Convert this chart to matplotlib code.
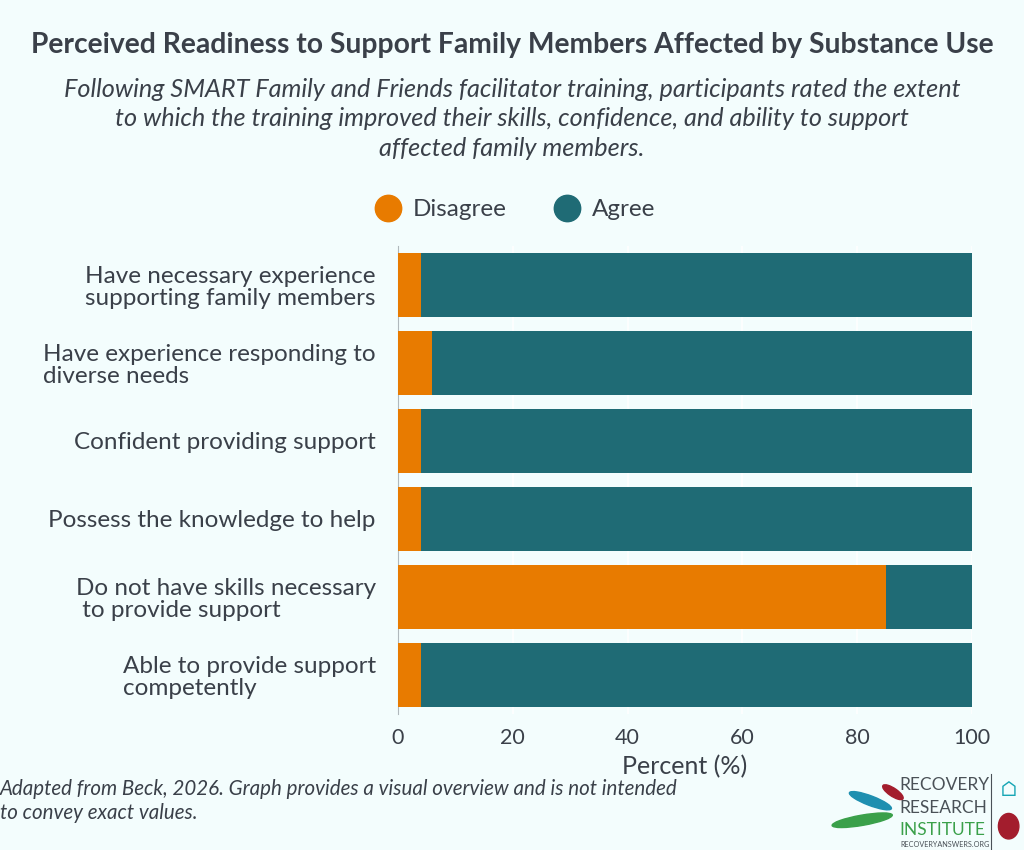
import matplotlib
matplotlib.use("Agg")
import matplotlib.pyplot as plt
from matplotlib.lines import Line2D
from matplotlib.patches import Ellipse

plt.rcParams['font.family'] = ['Lato', 'DejaVu Sans']

categories = ['Have necessary experience\nsupporting family members',
              'Have experience responding to\ndiverse needs',
              'Confident providing support',
              'Possess the knowledge to help',
              'Do not have skills necessary\n to provide support',
              'Able to provide support\ncompetently']
disagree = [4, 6, 4, 4, 85, 4]
agree = [96, 94, 96, 96, 15, 96]
xticks = [0, 20, 40, 60, 80, 100]

bg = '#f3fdfd'
orange = '#e87b00'
teal = '#1f6b75'
txt = '#3a4049'

fig = plt.figure(figsize=(10.24, 8.5), dpi=100, facecolor=bg)
ax = fig.add_axes([0.3887, 0.16, 0.5606, 0.5506], facecolor=bg)

y = list(range(len(categories)))
ax.barh(y, disagree, height=0.83, color=orange, zorder=3)
ax.barh(y, agree, left=disagree, height=0.83, color=teal, zorder=3)

ax.set_ylim(len(categories) - 0.5, -0.5)
ax.set_xlim(0, 100)
ax.set_yticks(y)
ax.set_yticklabels(categories, fontsize=17.5, color=txt, ha='right', multialignment='left',
                   linespacing=1.05)
ax.set_xticks(xticks)
ax.set_xticklabels([str(v) for v in xticks], fontsize=15.5, color=txt)
ax.tick_params(length=0, pad=10)
ax.tick_params(axis='y', pad=16)
ax.set_xlabel('Percent (%)', fontsize=18, color=txt, labelpad=5)
ax.grid(axis='x', color='white', linewidth=1.2, zorder=0)
for s in ['top', 'right', 'bottom']:
    ax.spines[s].set_visible(False)
ax.spines['left'].set_color('#b0b8bc')

fig.text(0.5, 0.947, 'Perceived Readiness to Support Family Members Affected by Substance Use',
         ha='center', va='center', fontsize=20.3, fontweight='bold', color=txt)
fig.text(0.5, 0.86, 'Following SMART Family and Friends facilitator training, participants rated the extent\n'
         'to which the training improved their skills, confidence, and ability to support\n'
         'affected family members.', ha='center', va='center', fontsize=18.2, style='italic',
         color=txt, linespacing=1.33)

handles = [Line2D([], [], marker='o', ls='', color=orange, markersize=19),
           Line2D([], [], marker='o', ls='', color=teal, markersize=19)]
fig.legend(handles, ['Disagree', 'Agree'], loc='center', bbox_to_anchor=(0.5, 0.753), ncol=2,
           frameon=False, fontsize=17.5, labelcolor=txt, handletextpad=0.2, columnspacing=1.7,
           handlelength=1.6)

fig.text(0.0, 0.058, 'Adapted from Beck, 2026. Graph provides a visual overview and is not intended\n'
         'to convey exact values.', ha='left', va='center', fontsize=14.8, style='italic',
         color=txt, linespacing=1.25)

# logo
fig.patches.append(Ellipse((0.842, 0.035), 0.06, 0.012, angle=12, transform=fig.transFigure,
                           color='#3aa04a', figure=fig))
fig.patches.append(Ellipse((0.85, 0.058), 0.045, 0.011, angle=-25, transform=fig.transFigure,
                           color='#1e8fb0', figure=fig))
fig.patches.append(Ellipse((0.872, 0.068), 0.025, 0.009, angle=-40, transform=fig.transFigure,
                           color='#a31d2d', figure=fig))
fig.text(0.878, 0.076, 'RECOVERY', fontsize=12.5, color='#4a5157', va='center')
fig.text(0.878, 0.049, 'RESEARCH', fontsize=12.5, color='#4a5157', va='center')
fig.text(0.878, 0.023, 'INSTITUTE', fontsize=12.5, color='#3aa04a', va='center')
fig.text(0.879, 0.006, 'RECOVERYANSWERS.ORG', fontsize=5.2, color='#4a5157', va='center')
fig.add_artist(Line2D([0.968, 0.968], [0.0, 0.09], color='#4a5157', lw=0.8))
fig.text(0.985, 0.07, '\u2302', fontsize=15, color='#17a6b5', ha='center', va='center')
fig.patches.append(Ellipse((0.985, 0.028), 0.02, 0.03, transform=fig.transFigure,
                           color='#a31d2d', figure=fig))

fig.savefig('out.png', dpi=100, facecolor=bg)
